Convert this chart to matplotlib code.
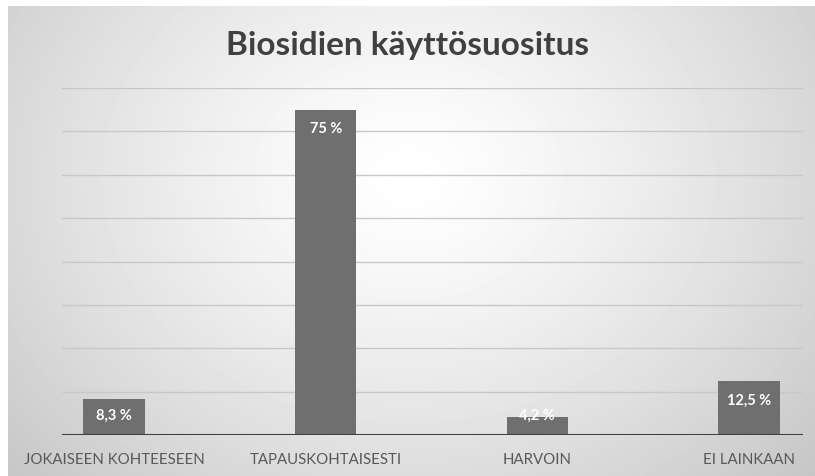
import matplotlib.pyplot as plt
import numpy as np

categories = ['JOKAISEEN KOHTEESEEN', 'TAPAUSKOHTAISESTI', 'HARVOIN', 'EI LAINKAAN']
values = [8.3, 75, 4.2, 12.5]
value_labels = ['8,3 %', '75 %', '4,2 %', '12,5 %']
title = 'Biosidien käyttösuositus'

plt.rcParams['font.family'] = ['Lato', 'DejaVu Sans']

W, H = 815, 477
fig = plt.figure(figsize=(W / 100, H / 100), dpi=100)
fig.patch.set_facecolor('white')

# radial gradient panel behind the chart
bg = fig.add_axes([8 / W, 0, 1 - 8 / W, 1 - 7 / H])
yy, xx = np.mgrid[0:470, 0:807]
d = np.sqrt(((xx - 400) / 520) ** 2 + ((yy - 170) / 420) ** 2)
shade = np.clip(1.0 - 0.21 * d ** 1.3, 0.77, 1.0)
bg.imshow(shade, cmap='gray', vmin=0, vmax=1, aspect='auto', interpolation='bilinear')
bg.axis('off')

ax = fig.add_axes([62 / W, (H - 436) / H, (803 - 62) / W, (436 - 89) / H])
ax.patch.set_alpha(0)
x = np.arange(len(categories))
ax.bar(x, values, width=0.29, color='#6f6f6f', zorder=3)
ax.set_xlim(-0.246, 3.255)
ax.set_ylim(0, 80)
ax.set_yticks(np.arange(10, 81, 10))
ax.yaxis.grid(True, color='#c8c8c8', linewidth=1, zorder=0)
ax.axhline(0, color='#404040', linewidth=2.2, zorder=4)
for s in ax.spines.values():
    s.set_visible(False)
ax.tick_params(axis='y', left=False, labelleft=False)
ax.tick_params(axis='x', length=0, pad=12, labelsize=10.8, labelcolor='#595959')
ax.set_xticks(x)
ax.set_xticklabels(categories)

for xi, v, lab in zip(x, values, value_labels):
    ax.text(xi, max(v - 4.3, 4.6), lab, ha='center', va='center', color='white',
            fontsize=10.5, fontweight='bold', zorder=5)

fig.text(0.5, 1 - 46 / H, title, ha='center', va='center', fontsize=24,
         fontweight='bold', color='#404040')

fig.savefig('out.png', dpi=100)
